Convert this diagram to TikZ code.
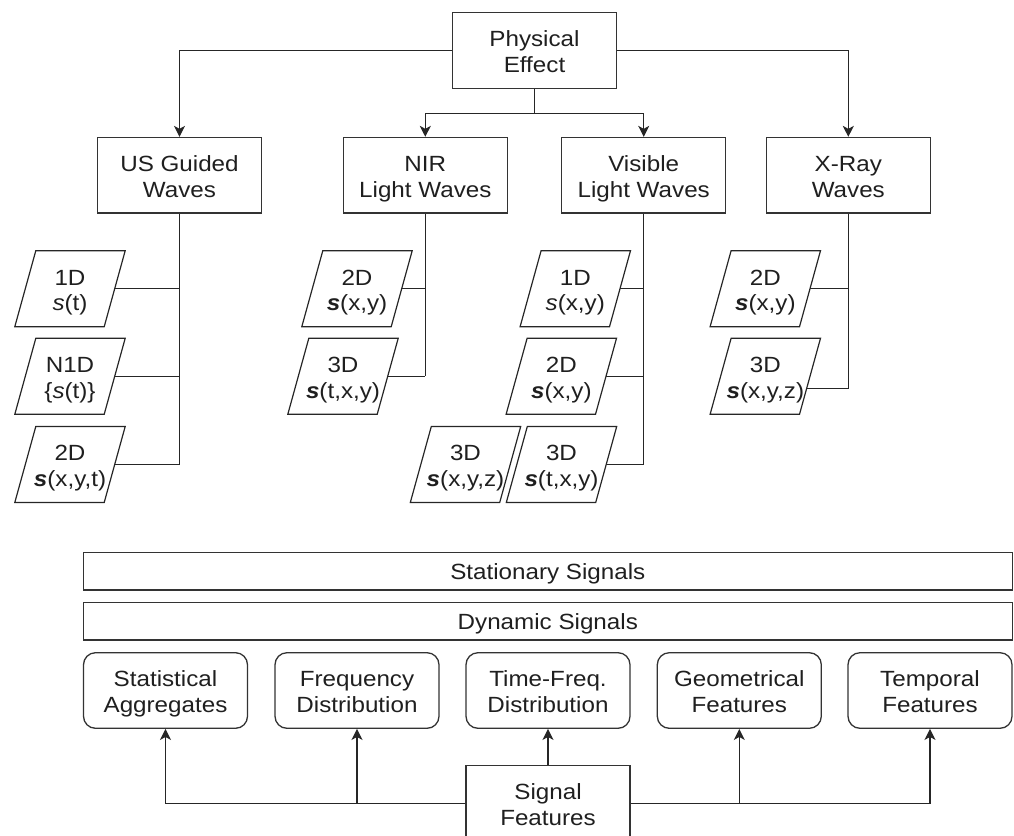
\documentclass[tikz,border=0pt]{standalone}
\usepackage{fontspec}
\setmainfont{Liberation Sans}[FakeStretch=1.1]
\usetikzlibrary{arrows.meta,calc}
\newcommand{\bsig}{\textbf{\textit{s}}}
\newcommand{\isig}{\textit{s}}
\newcommand{\topstrut}{\rule{0pt}{24.6pt}}
\newcommand{\botstrut}{\rule[-6pt]{0pt}{6pt}}
\newcommand{\onestrut}{\rule[-6pt]{0pt}{28pt}}
\newcommand{\twoline}[2]{\topstrut#1\\#2\botstrut}
\begin{document}
\begin{tikzpicture}[x=1pt,y=-1pt,
  every node/.style={font=\fontsize{22}{25.8}\selectfont, text=black!88},
  box/.style={draw=black!80, line width=1.3pt, minimum width=164, minimum height=75.6, inner sep=0, align=center},
  rbox/.style={box, rounded corners=12pt},
  wide/.style={draw=black!80, line width=1.3pt, minimum width=929, minimum height=37.3, inner sep=0},
  para/.style={minimum width=89, minimum height=75.6, inner sep=0, align=center},
  conn/.style={draw=black!85, line width=1.2pt},
  arr/.style={conn, -{Stealth[length=11pt,width=11pt,inset=3pt]}},
]
\useasboundingbox (0,0) rectangle (1014,835);

% top level
\node[box] (pe) at (534.5,50.5) {\twoline{Physical}{Effect}};
\node[box] (us) at (179.5,175.3) {\twoline{US Guided}{Waves}};
\node[box] (nir) at (425.3,175.3) {\twoline{NIR}{Light Waves}};
\node[box] (vis) at (643.7,175.3) {\twoline{Visible}{Light Waves}};
\node[box] (xr) at (848.3,175.3) {\twoline{X-Ray}{Waves}};

\draw[arr] (pe.west) -| (us.north);
\draw[arr] (pe.east) -| (xr.north);
\coordinate (split) at ($(pe.south)+(0,24.4)$);
\draw[conn] (pe.south) -- (split);
\draw[arr] (split) -| (nir.north);
\draw[arr] (split) -| (vis.north);

% data parallelograms
\node[para] (us1) at (70,288.7) {\twoline{1D}{\isig(t)}};
\node[para] (us2) at (70,376.3) {\twoline{N1D}{\{\isig(t)\}}};
\node[para] (us3) at (70,464.5) {\twoline{2D}{\bsig(x,y,t)}};
\node[para] (nir1) at (357,288.7) {\twoline{2D}{\bsig(x,y)}};
\node[para] (nir2) at (343,376.3) {\twoline{3D}{\bsig(t,x,y)}};
\node[para] (vis1) at (575.3,288.7) {\twoline{1D}{\isig(x,y)}};
\node[para] (vis2) at (561.3,376.3) {\twoline{2D}{\bsig(x,y)}};
\node[para] (vis3) at (465.5,464.5) {\twoline{3D}{\bsig(x,y,z)}};
\node[para] (vis4) at (561.5,464.5) {\twoline{3D}{\bsig(t,x,y)}};
\node[para] (xr1) at (765.3,288.7) {\twoline{2D}{\bsig(x,y)}};
\node[para] (xr2) at (765.3,376.3) {\twoline{3D}{\bsig(x,y,z)}};

\foreach \n in {us1,us2,us3,nir1,nir2,vis1,vis2,vis3,vis4,xr1,xr2}
  \draw[conn] ($(\n.south west)+(-10.5,0)$) -- ($(\n.north west)+(10.5,0)$)
    -- ($(\n.north east)+(10.5,0)$) -- ($(\n.south east)+(-10.5,0)$) -- cycle;

% branch lines
\draw[conn] (us.south) -- (us.south |- us3.east);
\draw[conn] (us1.east) -- (us1.east -| us.south);
\draw[conn] (us2.east) -- (us2.east -| us.south);
\draw[conn] (us3.east) -- (us3.east -| us.south);

\draw[conn] (nir.south) -- (nir.south |- nir2.east);
\draw[conn] (nir1.east) -- (nir1.east -| nir.south);
\draw[conn] (nir2.east) -- (nir2.east -| nir.south);

\draw[conn] (vis.south) -- (vis.south |- vis4.east);
\draw[conn] (vis1.east) -- (vis1.east -| vis.south);
\draw[conn] (vis2.east) -- (vis2.east -| vis.south);
\draw[conn] (vis4.east) -- (vis4.east -| vis.south);

\coordinate (xr2c) at ($(xr2.east)+(-3.4,12.4)$);
\draw[conn] (xr.south) -- (xr.south |- xr2c);
\draw[conn] (xr1.east) -- (xr1.east -| xr.south);
\draw[conn] (xr2c) -- (xr2c -| xr.south);

% bottom part
\node[wide] (ss) at (547.8,571.3) {\onestrut Stationary Signals};
\node[wide] (ds) at (547.8,621.3) {\onestrut Dynamic Signals};

\node[rbox] (stat) at (165.5,690.5) {\twoline{Statistical}{Aggregates}};
\node[rbox] (freq) at (357,690.5) {\twoline{Frequency}{Distribution}};
\node[rbox] (tf) at (548,690.5) {\twoline{Time-Freq.}{Distribution}};
\node[rbox] (geo) at (739.3,690.5) {\twoline{Geometrical}{Features}};
\node[rbox] (temp) at (930,690.5) {\twoline{Temporal}{Features}};

\node[box] (sf) at (548,803.3) {\twoline{Signal}{Features}};

\draw[arr] (sf.west) -| (stat.south);
\draw[arr] (sf.west) -| (freq.south);
\draw[arr] (sf.north) -- (tf.south);
\draw[arr] (sf.east) -| (geo.south);
\draw[arr] (sf.east) -| (temp.south);
\end{tikzpicture}
\end{document}
